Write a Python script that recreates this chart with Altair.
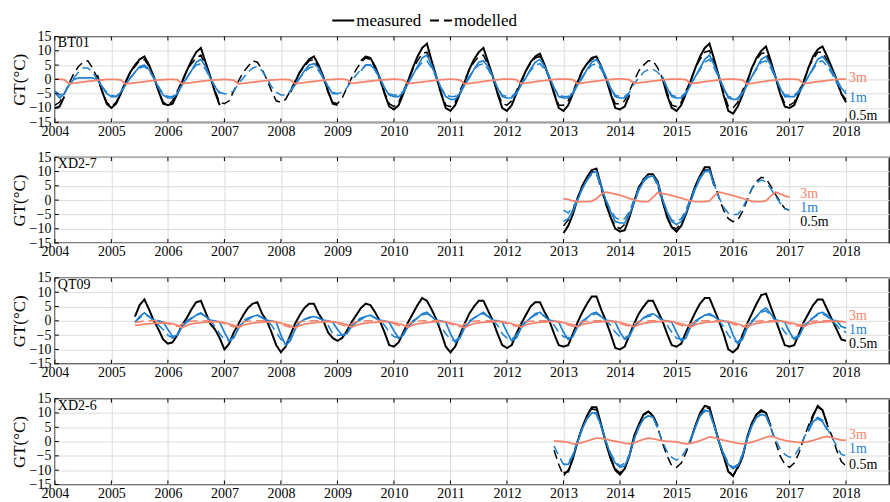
import altair as alt
import pandas as pd

N = None
FONT = "Times New Roman, Liberation Serif, Times, serif"
BLACK = "#000000"
BLUE = "#1f80d0"
SALMON = "#f5846e"

YEARS = list(range(2004, 2019))
YTICKS = [-15, -10, -5, 0, 5, 10, 15]

# ---------------- BT01 ----------------
BT01_05_MEAS = {
    2004: [-10, -9.5, -6, N, N, N, N, N, N, 1.5, -4, -8.5],
    2005: [-10, -8.5, -5, -1, 2.5, 5, 7, 8, 5, 1, -4, -8.5],
    2006: [-9, -8.5, -5, -1, 3, 6.5, 9.5, 11, 6, 1, -4.5, -9],
    2007: [N] * 12,
    2008: [N, N, -4.5, -1, 2.5, 5, 7, 8, 5, 1, -4, -8.5],
    2009: [-9, N, N, N, N, 6.5, 8, 7.5, 4.5, 0.5, -5, -9.5],
    2010: [-10.5, -9, -5, -0.5, 4, 8, 11, 12.5, 6.5, 1, -5, -10],
    2011: [-11, -9, -5, -1, 3.5, 7, 9.5, 11, 6, 1, -5, -10],
    2012: [-11, -9, -5, -1, 3, 6, 8, 9, 5, 0.5, -5, -10],
    2013: [-11, -9, -5, -1, 3, 5.5, 7.5, 8, 4.5, 0.5, -5, -10],
    2014: [-10.5, -9.5, -5.5, N, N, N, N, N, N, 0.5, -5.5, -10],
    2015: [-11, -9, -5, -0.5, 4, 8, 11, 12.5, 7, 1, -5.5, -11],
    2016: [-12, -9.5, -5.5, -1, 4, 7.5, 10, 11.5, 6.5, 1, -5, -9.5],
    2017: [-10, -9, -5, -1, 4, 8, 10.5, 11.5, 8, 4, 0, -5],
    2018: [-8],
}
BT01_05_MOD = {
    2004: [-9, -8, -5, -1.5, 2, 4.5, 6, 6.5, 4, 0.5, -4, -8],
    2005: [-9.5, -8, -4.5, -1, 2.5, 4.5, 6.5, 7, 4.5, 0.5, -4, -8],
    2006: [-9, -7.5, -4, -0.5, 3, 5.5, 7.5, 8.5, 5, 0.5, -4, -8],
    2007: [-8.5, -7.5, -4, -0.5, 2.5, 4.5, 6.5, 6, 3.5, 0, -4, -7.5],
    2008: [-8, -7, -4, -0.5, 2.5, 4.5, 6.5, 7, 4, 0.5, -4.5, -8],
    2009: [-8.5, -6.5, -3, 0.5, 3.5, 6, 7.5, 7, 4, 0, -4.5, -8.5],
    2010: [-9.5, -8, -4, -0.5, 3.5, 6.5, 9, 9.5, 5, 0.5, -4.5, -9],
    2011: [-9.5, -8, -4, -0.5, 3.5, 6, 8, 8.5, 5, 0.5, -4.5, -8.5],
    2012: [-9, -7.5, -4, -0.5, 3, 5.5, 7.5, 8, 4.5, 0.5, -4.5, -9],
    2013: [-9, -7.5, -4, -0.5, 3, 5.5, 7, 7.5, 4.5, 0.5, -4.5, -8.5],
    2014: [-8.5, -7.5, -4, -0.5, 3, 5, 6.5, 6.5, 4, 0.5, -4.5, -9],
    2015: [-9.5, -8, -4, -0.5, 4, 7, 9.5, 10, 6, 1, -4.5, -9.5],
    2016: [-10, -8, -4, -0.5, 4, 7, 9, 9.5, 5.5, 0.5, -4.5, -8.5],
    2017: [-9, -8, -4, -0.5, 4, 7, 9.5, 9.5, 6.5, 3, -1, -5],
    2018: [-7],
}
BT01_1_MEAS = {
    2004: [-4.5, -6.5, -5, -2, 0, 0.5, 0.5, 0.5, 0.5, 0, -2.5, -5],
    2005: [-6, -6, -4.5, -2, 0.5, 2.5, 4.5, 5, 3.5, 0.5, -3, -5.5],
    2006: [-6.5, -6.5, -5, -2, 0.5, 3, 6, 7, 4.5, 0.5, -2.5, -5],
    2007: [N] * 12,
    2008: [N, N, -4, -2, 0.5, 3, 5, 5.5, 4, 0.5, -2.5, -5],
    2009: [-5, N, N, N, N, 3, 5, 5, 3.5, 0.5, -3, -5.5],
    2010: [-6, -6, -4.5, -1.5, 1.5, 4.5, 7.5, 8.5, 5, 1, -3, -6],
    2011: [-7, -7, -5, -2, 0.5, 3.5, 6, 6.5, 4.5, 1, -3, -6],
    2012: [-6.5, -6.5, -5, -2, 0.5, 3.5, 6, 7, 4.5, 1, -3, -6],
    2013: [-6.5, -6.5, -5, -2, 0.5, 3.5, 6, 7, 4.5, 1, -3, -6],
    2014: [-6.5, -6.5, -5, N, N, N, N, N, N, 1, -3, -6],
    2015: [-6.5, -6.5, -5, -2, 1, 4, 7, 8.5, 5, 1, -3, -6.5],
    2016: [-7, -7, -5, -2, 1, 4, 7, 8, 5, 1, -3, -6],
    2017: [-6, -6, -4.5, -2, 1, 4, 7, 8, 6, 3, 0, -3],
    2018: [-5],
}
BT01_1_MOD = {
    2004: [-4, -5.5, -4.5, -2, 0.5, 2.5, 4, 4, 2.5, 0, -2.5, -4.5],
    2005: [-5.5, -6, -4.5, -2, 0.5, 2.5, 4, 4.5, 3, 0.5, -2.5, -5],
    2006: [-6, -6, -4.5, -2, 0.5, 3, 5, 5.5, 3.5, 0.5, -2.5, -4.5],
    2007: [-5, -5, -4, -1.5, 0.5, 2.5, 4, 4.5, 3, 0.5, -2.5, -4.5],
    2008: [-5.5, -5.5, -4, -1.5, 0.5, 2.5, 4, 4.5, 3, 0.5, -2.5, -4.5],
    2009: [-5, -4.5, -3, -0.5, 1.5, 3.5, 5, 5, 3, 0.5, -3, -5],
    2010: [-5.5, -5.5, -4, -1, 1.5, 4, 6, 6.5, 4, 0.5, -3, -5.5],
    2011: [-6, -6, -4.5, -1.5, 1, 3.5, 5, 5.5, 3.5, 0.5, -3, -5.5],
    2012: [-6, -6, -4.5, -1.5, 1, 3, 5, 5.5, 3.5, 0.5, -3, -5.5],
    2013: [-6, -6, -4.5, -1.5, 1, 3, 5, 5.5, 3.5, 0.5, -3, -5.5],
    2014: [-6, -6, -4.5, -1.5, 0.5, 2.5, 3.5, 3.5, 2.5, 0.5, -3, -5.5],
    2015: [-6, -6, -4.5, -1.5, 1, 3.5, 6, 7, 4, 0.5, -3, -6],
    2016: [-6.5, -6.5, -4.5, -1.5, 1, 3.5, 6, 6.5, 4, 0.5, -3, -5.5],
    2017: [-5.5, -5.5, -4, -1.5, 1, 3.5, 6, 6.5, 4.5, 2, -1, -3.5],
    2018: [-4],
}
BT01_3_MEAS = {
    2004: [0.1, 0.1, -0.1, -1.5, -1.3, -1.1, -0.9, -0.7, -0.5, -0.3, -0.2, 0.0],
    2005: [0.0, 0.0, -0.2, -1.6, -1.4, -1.2, -1.0, -0.8, -0.6, -0.4, -0.2, -0.1],
    2006: [0.0, 0.0, -0.1, -1.5, -1.3, -1.1, -0.9, -0.7, -0.5, -0.3, -0.2, -0.1],
    2007: [0.0, -0.1, -0.3, -1.6, -1.4, -1.2, -1.0, -0.8, -0.6, -0.4, -0.2, -0.1],
    2008: [0.0, 0.0, -0.2, -1.5, -1.3, -1.1, -0.9, -0.7, -0.5, -0.3, -0.1, 0.0],
    2009: [0.1, 0.1, -0.1, -1.4, -1.2, -1.0, -0.8, -0.6, -0.4, -0.2, -0.1, 0.0],
    2010: [0.1, 0.0, -0.2, -1.5, -1.3, -1.1, -0.9, -0.7, -0.5, -0.3, -0.1, 0.0],
    2011: [0.1, 0.0, -0.2, -1.6, -1.4, -1.2, -1.0, -0.7, -0.5, -0.3, -0.1, 0.1],
    2012: [0.1, 0.1, -0.1, -1.5, -1.3, -1.1, -0.8, -0.6, -0.4, -0.2, 0.0, 0.1],
    2013: [0.1, 0.1, -0.1, -1.5, -1.3, -1.0, -0.8, -0.6, -0.4, -0.2, 0.0, 0.1],
    2014: [0.2, 0.1, -0.1, -1.4, -1.2, -1.0, -0.8, -0.6, -0.4, -0.2, 0.0, 0.1],
    2015: [0.1, 0.1, -0.1, -1.5, -1.3, -1.1, -0.8, -0.6, -0.4, -0.2, 0.0, 0.1],
    2016: [0.1, 0.0, -0.2, -1.6, -1.4, -1.1, -0.9, -0.6, -0.4, -0.2, 0.0, 0.1],
    2017: [0.1, 0.1, -0.1, -1.5, -1.3, -1.0, -0.8, -0.6, -0.4, -0.2, 0.0, 0.1],
    2018: [0.1],
}

# ---------------- XD2-7 ----------------
XD7_05_MEAS = {
    2013: [-11.5, -9, -5, 0.5, 5, 8, 10.5, 11, 5, -1, -6, -10],
    2014: [-11, -10.5, -6, -0.5, 4.5, 7, 9, 9, 6.5, 0, -6, -9.5],
    2015: [-11, -9, -5, 0, 5, 8.5, 11.5, 11.5, 5, N, N, N],
}
XD7_05_MOD = {
    2013: [-9, -7, -3.5, 1, 5, 8, 10, 9.5, 4, -1.5, -6, -9],
    2014: [-10, -8.5, -4.5, 0, 4.5, 7.5, 9, 9, 5, -0.5, -5.5, -9.5],
    2015: [-10, -8, -4, 0.5, 5, 8.5, 10.5, 10.5, 6, 1, -3.5, -6.5],
    2016: [-7.5, -7, -4, 0, 4, 6.5, 8, 7.5, 5, 2, -0.5, -3],
    2017: [-3.5],
}
XD7_1_MEAS = {
    2013: [-7.5, -6.5, -4, 0, 4, 7, 9.5, 10, 5, 0, -4, -7.5],
    2014: [-8, -8, -5, -1, 3.5, 6.5, 8, 8.5, 6, 0.5, -4, -7.5],
    2015: [-8.5, -7.5, -4.5, -0.5, 4, 7.5, 10, 10.5, 5, N, N, N],
}
XD7_1_MOD = {
    2013: [-3.5, -4.5, -2.5, 0.5, 4, 7, 9, 9, 4.5, 0, -3.5, -6],
    2014: [-7, -6.5, -4, 0, 4, 7, 8.5, 8.5, 5, 0, -4, -7],
    2015: [-7.5, -6.5, -3.5, 0.5, 4.5, 8, 10, 10, 5.5, 1, -2.5, -4.5],
    2016: [-5, -5, -3, 0.5, 4, 6, 7, 6.5, 4, 1.5, -1, -3],
    2017: [-3.5],
}
XD7_3_MEAS = {
    2013: [0.5, 0.2, -0.3, -0.5, -0.5, -0.5, -0.4, 0.5, 2.0, 2.8, 2.5, 2.1],
    2014: [1.7, 1.2, 0.6, 0.1, -0.4, -0.5, -0.5, 1.0, 2.6, 2.3, 2.0, 1.6],
    2015: [1.2, 0.7, 0.2, -0.3, -0.5, -0.5, -0.5, -0.3, 1.5, 2.8, 2.4, 2.0],
    2016: [1.6, 1.1, 0.6, 0.1, -0.4, -0.5, -0.5, -0.3, 1.4, 2.8, 2.2, 1.5],
    2017: [1.0],
}

# ---------------- QT09 ----------------
QT09_05_MEAS = {
    2005: [N, N, N, N, N, 1.5, 5.5, 7.5, 4, 0, -3, -6.5],
    2006: [-8, -7.5, -5, -1.5, 1, 4, 6.5, 7, 3, -1, -3, -6],
    2007: [-10, -8, -4, -1, 2, 4.5, 6, 6.5, 2.5, 0, -4, -8.5],
    2008: [-11, -9, -5, -1, 2, 4.5, 6, 6, 2.5, 0, -4, -6],
    2009: [-7, -6, -3.5, -0.5, 2, 4.5, 6, 5.5, 3, 0, -4, -8.5],
    2010: [-9, -7.5, -4, -0.5, 2.5, 5.5, 8, 7, 4, 0.5, -4, -9],
    2011: [-11, -9, -5, -1, 2.5, 5, 7, 7, 3.5, 0, -4.5, -8.5],
    2012: [-9.5, -8.5, -4.5, -1, 2, 5, 6.5, 6.5, 3, 0, -4.5, -8.5],
    2013: [-9, -8.5, -4.5, -0.5, 3, 6, 8.5, 8.5, 4, 0, -4.5, -9.5],
    2014: [-10, -9, -5, -1, 2.5, 5, 7, 7, 3.5, 0, -4.5, -8.5],
    2015: [-9, -8, -4, -0.5, 3, 6, 8, 8, 4, 0, -4.5, -10],
    2016: [-11, -9.5, -5, -1, 2.5, 6, 9, 9.5, 5, 0.5, -4, -8.5],
    2017: [-9, -8.5, -4.5, -0.5, 2.5, 5.5, 7.5, 7.5, 4, 0.5, -3, -6.5],
    2018: [-7],
}
QT09_1_MEAS = {
    2005: [N, N, N, N, N, -0.5, 1.5, 2.8, 1.5, 0.2, 0, -0.5],
    2006: [-3, -5.5, -5, -2, -0.5, 0.8, 2, 2.8, 1.5, 0.2, 0, -0.5],
    2007: [-4, -7, -6, -2.5, -0.5, 0.5, 1.5, 2, 1.2, 0.2, 0, -0.5],
    2008: [-5, -8.5, -7, -3, -0.5, 0.5, 1.2, 1.5, 1, 0.2, 0, -0.5],
    2009: [-3, -5, -4.5, -2, -0.5, 0.5, 1.5, 2, 1, 0.2, 0, -0.5],
    2010: [-3.5, -6, -5, -2, -0.5, 1, 2.5, 3, 1.5, 0.2, 0, -0.5],
    2011: [-4.5, -7.5, -6, -2.5, -0.5, 1, 2, 3, 1.5, 0.2, 0, -0.5],
    2012: [-4, -7, -6, -2.5, -0.5, 1, 2.5, 3, 1.5, 0.2, 0, -0.5],
    2013: [-4, -6.5, -5.5, -2, -0.5, 1, 2.5, 3, 1.5, 0.2, 0, -0.5],
    2014: [-4, -6.5, -5.5, -2, -0.5, 1, 2, 2.5, 1.5, 0.2, 0, -0.5],
    2015: [-4, -7, -6, -2, -0.5, 1, 2, 2.5, 1.5, 0.2, 0, -0.5],
    2016: [-5, -8, -6.5, -2.5, -0.5, 1.5, 3.5, 4.5, 2.5, 0.3, 0, -0.5],
    2017: [-4, -6.5, -5.5, -2, -0.5, 1, 2.5, 3, 2, 0.3, 0, -2],
    2018: [-2.5],
}
QT09_1_MOD = {
    2005: [N, N, N, N, N, -0.5, 1, 2, 1.5, 0, -1.5, -3],
    2006: [-5, -6, -5, -2, 0, 1, 2, 2.5, 1.5, 0, -2, -4.5],
    2007: [-6.5, -7, -5.5, -2.5, 0, 1, 1.5, 2, 1, 0, -1.5, -4],
    2008: [-6.5, -7.5, -6, -2.5, 0, 0.5, 1, 1.5, 1, 0, -1.5, -4.5],
    2009: [-5, -5, -4, -1.5, 0, 1, 1.5, 2, 1, 0, -1.5, -4],
    2010: [-5.5, -6, -4.5, -2, 0, 1, 2, 2.5, 1.5, 0, -2, -4.5],
    2011: [-6.5, -7, -5.5, -2, 0, 1, 2, 2.5, 1.5, 0, -1.5, -4.5],
    2012: [-6, -6.5, -5, -2, 0, 1, 2, 2.5, 1.5, 0, -1.5, -4],
    2013: [-5.5, -6, -5, -2, 0, 1, 2, 2.5, 1.5, 0, -1.5, -4],
    2014: [-5.5, -6, -5, -2, 0, 1, 1.5, 2, 1.5, 0, -1.5, -4],
    2015: [-6, -6.5, -5, -2, 0, 1, 2, 2, 1.5, 0, -2, -5],
    2016: [-7, -7.5, -5.5, -2, 0, 1.5, 3, 3.5, 2, 0, -1.5, -4],
    2017: [-5.5, -6, -5, -2, 0, 1, 2, 2.5, 1.5, 0, -1.5, -3.5],
    2018: [-4],
}
QT09_3_MEAS = {
    2005: [N, N, N, N, N, -1.6, -1.4, -1.2, -1.0, -0.9, -0.8, -0.8],
    2006: [-0.8, -1.0, -1.5, -2.4, -1.6, -1.1, -0.8, -0.6, -0.5, -0.4, -0.3, -0.3],
    2007: [-0.7, -1.1, -1.6, -2.3, -1.5, -1.1, -0.8, -0.6, -0.5, -0.4, -0.3, -0.3],
    2008: [-0.8, -1.2, -1.7, -2.5, -1.6, -1.2, -0.9, -0.7, -0.5, -0.4, -0.3, -0.3],
    2009: [-0.6, -0.9, -1.4, -2.2, -1.5, -1.1, -0.8, -0.6, -0.5, -0.4, -0.3, -0.3],
    2010: [-0.7, -1.0, -1.5, -2.3, -1.5, -1.1, -0.8, -0.6, -0.4, -0.3, -0.3, -0.3],
    2011: [-0.8, -1.1, -1.6, -2.4, -1.5, -1.0, -0.7, -0.5, -0.4, -0.3, -0.2, -0.2],
    2012: [-0.7, -1.0, -1.5, -2.2, -1.4, -1.0, -0.7, -0.5, -0.4, -0.3, -0.2, -0.2],
    2013: [-0.6, -1.0, -1.4, -2.1, -1.3, -0.9, -0.6, -0.4, -0.3, -0.2, -0.2, -0.2],
    2014: [-0.6, -1.0, -1.4, -2.1, -1.3, -0.9, -0.6, -0.4, -0.3, -0.2, -0.2, -0.2],
    2015: [-0.6, -1.0, -1.5, -2.2, -1.3, -0.9, -0.6, -0.4, -0.3, -0.2, -0.2, -0.2],
    2016: [-0.7, -1.1, -1.6, -2.3, -1.3, -0.9, -0.6, -0.4, -0.3, -0.2, -0.1, -0.2],
    2017: [-0.6, -1.0, -1.4, -2.1, -1.2, -0.8, -0.5, -0.4, -0.3, -0.2, -0.1, -0.2],
    2018: [-0.4],
}
QT09_3_MOD = {
    2005: [N, N, N, N, N, -0.6, -0.3, 0, 0, 0, 0, -0.3],
    2006: [-1.0, -1.6, -2.0, -1.2, -0.4, -0.1, 0, 0, 0, 0, -0.1, -0.4],
    2007: [-1.0, -1.7, -2.1, -1.2, -0.4, -0.1, 0, 0, 0, 0, -0.1, -0.4],
    2008: [-1.1, -1.8, -2.2, -1.3, -0.4, -0.1, 0, 0, 0, 0, -0.1, -0.4],
    2009: [-0.9, -1.5, -1.9, -1.1, -0.3, -0.1, 0, 0, 0, 0, -0.1, -0.4],
    2010: [-1.0, -1.6, -2.0, -1.2, -0.4, -0.1, 0, 0, 0, 0, -0.1, -0.4],
    2011: [-1.1, -1.7, -2.1, -1.2, -0.4, -0.1, 0, 0, 0, 0, -0.1, -0.4],
    2012: [-1.0, -1.6, -2.0, -1.1, -0.3, -0.1, 0, 0, 0, 0, -0.1, -0.4],
    2013: [-1.0, -1.5, -1.9, -1.1, -0.3, -0.1, 0, 0, 0, 0, -0.1, -0.4],
    2014: [-1.0, -1.5, -1.9, -1.1, -0.3, -0.1, 0, 0, 0, 0, -0.1, -0.4],
    2015: [-1.0, -1.6, -2.0, -1.1, -0.3, -0.1, 0, 0, 0, 0, -0.1, -0.4],
    2016: [-1.1, -1.7, -2.1, -1.2, -0.3, -0.1, 0, 0, 0, 0, -0.1, -0.4],
    2017: [-1.0, -1.5, -1.9, -1.1, -0.3, -0.1, 0, 0, 0, 0, -0.1, -0.4],
}

# ---------------- XD2-6 ----------------
XD6_05_MEAS = {
    2013: [-11, -10.5, -6, 0, 5, 9, 12, 12, 6, -0.5, -6, -10],
    2014: [-11.5, -9.5, -5, 2, 6, 9.5, 10.5, 9, 5.5, N, N, N],
    2015: [N, N, N, 0.5, 5.5, 10, 12.5, 12, 6, 0, -5, -10.5],
    2016: [-12, -9, -5.5, 1.5, 6.5, 9.5, 11, 10, 5.5, N, N, N],
    2017: [N, N, N, N, 4, 9, 12.5, 11, 6, N, N, N],
}
XD6_05_MOD = {
    2012: [N, N, N, N, N, N, N, N, N, N, -3, -8],
    2013: [-12, -10, -5.5, 0.5, 5, 9, 11.5, 11, 5.5, 0, -5.5, -9.5],
    2014: [-11, -9, -5, 1, 5.5, 9, 10.5, 9.5, 5, -0.5, -5, -8.5],
    2015: [-9, -7.5, -4, 0.5, 5.5, 9.5, 12, 11.5, 6, 0, -5.5, -10],
    2016: [-12, -9.5, -5.5, 1, 6, 9.5, 10.5, 10, 5, 0, -5, -8],
    2017: [-9, -7.5, -4, 1, 5.5, 9.5, 12, 11, 6, 2, -3, -7],
    2018: [-8.5],
}
XD6_1_MEAS = {
    2013: [-8, -8, -5, 0, 4.5, 8, 10, 10, 5.5, 0, -4.5, -7.5],
    2014: [-9, -8.5, -5, 1, 5, 8, 9, 8.5, 5, N, N, N],
    2015: [N, N, N, 0.5, 5, 9, 11, 10.5, 5.5, 0, -4.5, -8],
    2016: [-9.5, -8.5, -5, 1, 5.5, 8.5, 9.5, 9, 5, N, N, N],
    2017: [N, N, N, N, 3.5, 7, 8, 7, 4, N, N, N],
}
XD6_1_MOD = {
    2012: [N, N, N, N, N, N, N, N, N, N, -1.5, -5],
    2013: [-8, -7.5, -4.5, 0.5, 4.5, 8, 10, 9.5, 5, 0, -4, -7],
    2014: [-8.5, -7.5, -4.5, 0.5, 5, 8, 9, 8.5, 4.5, 0, -3.5, -5.5],
    2015: [-6.5, -5.5, -3, 1, 5, 9, 10.5, 10, 5.5, 0, -4, -7.5],
    2016: [-9, -8, -4.5, 1, 5.5, 8.5, 9.5, 9, 5, 0.5, -2.5, -4.5],
    2017: [-5.5, -5, -2.5, 1, 4.5, 7.5, 8.5, 7.5, 4.5, 1.5, -1.5, -4.5],
    2018: [-5],
}
XD6_3_MEAS = {
    2012: [N, N, N, N, N, N, N, N, N, N, 0.2, 0.1],
    2013: [0, -0.3, -0.8, -0.7, -0.3, 0.2, 0.7, 1.2, 1.1, 0.8, 0.4, 0.1],
    2014: [-0.2, -0.6, -0.8, -0.5, 0.2, 0.8, 1.2, 1.0, 0.6, 0.3, 0.1, 0],
    2015: [-0.1, -0.5, -0.8, -0.6, -0.2, 0.3, 1.0, 1.6, 1.4, 0.9, 0.5, 0.1],
    2016: [-0.2, -0.6, -0.8, -0.6, -0.2, 0.3, 0.9, 1.5, 1.9, 1.4, 0.8, 0.4],
    2017: [0.1, -0.1, -0.3, -0.3, 0, 0.4, 0.9, 1.5, 1.8, 1.4, 0.9, 0.5],
    2018: [0.5],
}

# ---------------- chart ----------------
W, H = 836, 86
XDOM = [2004, 2018.76]


def to_frame(series, key, kind):
    rows = []
    seg, gap = 0, True
    for yr in sorted(series):
        for m, v in enumerate(series[yr]):
            if v is None:
                gap = True
                continue
            if gap:
                seg += 1
                gap = False
            rows.append({"t": yr + m / 12.0, "v": v, "kind": kind, "seg": f"{key}-{seg}"})
    return pd.DataFrame(rows)


X_AX = alt.Axis(values=YEARS, format="d", title=None, grid=True, labelFlush=False,
                labelPadding=2, ticks=False, domain=False, labelOverlap=False)
Y_AX = alt.Axis(values=YTICKS, title="GT(°C)", grid=True, labelFlush=False,
                labelPadding=4, titlePadding=1, ticks=False, domain=False)
XS = alt.Scale(domain=XDOM, nice=False, zero=False)
YS = alt.Scale(domain=[-15, 15], nice=False)
DASH = alt.Scale(domain=["measured", "modelled"], range=[[1, 0], [9, 5]])

LEGEND = alt.Legend(title=None, orient="none", legendX=277, legendY=-28, direction="horizontal",
                    symbolType="stroke", symbolSize=484, symbolStrokeColor="black",
                    symbolStrokeWidth=2, labelFont=FONT, labelFontSize=17, labelColor="black",
                    columnPadding=4, labelOffset=1, padding=0)

DUMMY = pd.DataFrame({"a": [0]})


def panel(name, series, labels, label_x, legend):
    layers = []
    for key, (data, kind, color, sw) in enumerate(series):
        df = to_frame(data, key, kind)
        layers.append(
            alt.Chart(df).mark_line(color=color, strokeWidth=sw, clip=True).encode(
                x=alt.X("t:Q", scale=XS, axis=X_AX),
                y=alt.Y("v:Q", scale=YS, axis=Y_AX),
                strokeDash=alt.StrokeDash("kind:N", scale=DASH, legend=LEGEND if legend else None),
                detail="seg:N",
            )
        )
    xt = pd.DataFrame({"t": YEARS})
    yt = pd.DataFrame({"v": YTICKS})
    layers.append(alt.Chart(xt).mark_rule(color="black", strokeWidth=1).encode(
        x=alt.X("t:Q", scale=XS, axis=X_AX), y=alt.value(0), y2=alt.value(4)))
    layers.append(alt.Chart(xt).mark_rule(color="black", strokeWidth=1).encode(
        x=alt.X("t:Q", scale=XS, axis=X_AX), y=alt.value(H - 4), y2=alt.value(H)))
    layers.append(alt.Chart(yt).mark_rule(color="black", strokeWidth=1).encode(
        y=alt.Y("v:Q", scale=YS, axis=Y_AX), x=alt.value(0), x2=alt.value(4)))
    layers.append(alt.Chart(DUMMY).mark_text(align="left", baseline="middle", fontSize=14,
                                             font=FONT, color="black").encode(
        x=alt.value(3), y=alt.value(7), text=alt.value(name)))
    for txt, ypx, col in labels:
        layers.append(alt.Chart(DUMMY).mark_text(align="left", baseline="middle", fontSize=14,
                                                 font=FONT, color=col).encode(
            x=alt.value(label_x), y=alt.value(ypx), text=alt.value(txt)))
    return alt.layer(*layers).properties(width=W, height=H)


p1 = panel("BT01", [
    (BT01_05_MOD, "modelled", BLACK, 1.5),
    (BT01_05_MEAS, "measured", BLACK, 2.0),
    (BT01_1_MOD, "modelled", BLUE, 1.5),
    (BT01_1_MEAS, "measured", BLUE, 1.7),
    (BT01_3_MEAS, "measured", SALMON, 1.8),
], [("3m", 42, SALMON), ("1m", 62, BLUE), ("0.5m", 80, BLACK)], 796, True)

p2 = panel("XD2-7", [
    (XD7_05_MOD, "modelled", BLACK, 1.5),
    (XD7_05_MEAS, "measured", BLACK, 2.0),
    (XD7_1_MOD, "modelled", BLUE, 1.5),
    (XD7_1_MEAS, "measured", BLUE, 1.7),
    (XD7_3_MEAS, "measured", SALMON, 1.8),
], [("3m", 37, SALMON), ("1m", 51, BLUE), ("0.5m", 65, BLACK)], 747, False)

p3 = panel("QT09", [
    (QT09_05_MEAS, "measured", BLACK, 2.0),
    (QT09_1_MOD, "modelled", BLUE, 1.5),
    (QT09_1_MEAS, "measured", BLUE, 1.7),
    (QT09_3_MOD, "modelled", SALMON, 1.5),
    (QT09_3_MEAS, "measured", SALMON, 1.8),
], [("3m", 38, SALMON), ("1m", 52, BLUE), ("0.5m", 66, BLACK)], 796, False)

p4 = panel("XD2-6", [
    (XD6_05_MOD, "modelled", BLACK, 1.5),
    (XD6_05_MEAS, "measured", BLACK, 2.0),
    (XD6_1_MOD, "modelled", BLUE, 1.5),
    (XD6_1_MEAS, "measured", BLUE, 1.7),
    (XD6_3_MEAS, "measured", SALMON, 1.8),
], [("3m", 36, SALMON), ("1m", 50, BLUE), ("0.5m", 66, BLACK)], 796, False)

chart = alt.vconcat(p1, p2, p3, p4, spacing=35, bounds="flush").resolve_scale(
    strokeDash="independent"
).resolve_legend(strokeDash="independent").properties(
    padding={"left": 9, "top": 7, "right": 0, "bottom": 0},
    background="white",
).configure_view(stroke="black", strokeWidth=1.3).configure_axis(
    labelFont=FONT, labelFontSize=14, labelColor="black",
    titleFont=FONT, titleFontSize=17, titleFontWeight="normal", titleColor="black",
    gridColor="#dcdcdc", gridWidth=1,
).configure_text(font=FONT)

chart.save("out.html", embed_options={"renderer": "svg", "actions": False})
